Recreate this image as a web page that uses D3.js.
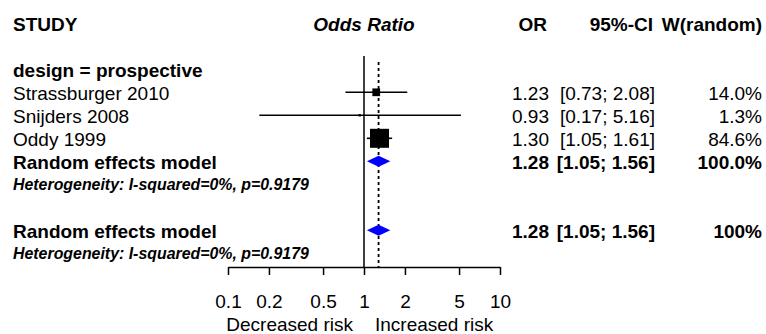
<!DOCTYPE html>
<html><head><meta charset="utf-8">
<script src="https://cdn.jsdelivr.net/npm/d3@7"></script>
<style>
html,body{margin:0;padding:0;background:#fff;}
svg text{font-family:"Liberation Sans",Arial,Helvetica,sans-serif;fill:#000;}
</style></head>
<body>
<svg id="chart" width="766" height="334"></svg>
<script>
// ---- data ----
const studies = ["Strassburger 2010", "Snijders 2008", "Oddy 1999"];
const orValues = [1.23, 0.93, 1.30];
const ciLower = [0.73, 0.17, 1.05];
const ciUpper = [2.08, 5.16, 1.61];
const weights = [14.0, 1.3, 84.6];
const pooledOR = 1.28;
const pooledLower = 1.05;
const pooledUpper = 1.56;
const subgroupLabel = "design = prospective";
const modelLabel = "Random effects model";
const hetLabel = "Heterogeneity: I-squared=0%, p=0.9179";
const tickValues = [0.1, 0.2, 0.5, 1, 2, 5, 10];
const tickLabels = ["0.1", "0.2", "0.5", "1", "2", "5", "10"];
const headers = ["STUDY", "Odds Ratio", "OR", "95%-CI", "W(random)"];
const sideLabels = ["Decreased risk", "Increased risk"];

// ---- scales ----
const svg = d3.select("#chart");
const x = d3.scaleLog().domain([0.1, 10]).range([228, 500]);
const row = d3.scaleLinear().domain([0, 10]).range([23.3, 253.3]);
const boxSize = d3.scaleSqrt().domain([0, 84.6]).range([0, 19]);
const fs = 19, fsHet = 15.9;
const bOff = 7.5, hOff = 5.5;
const colOR = 549, colCI = 655, colW = 762, leftX = 13;
const axisY = 267;

// headers
svg.append("text").attr("x", leftX).attr("y", row(0) + bOff).attr("font-size", fs).attr("font-weight", "bold").text(headers[0]);
svg.append("text").attr("x", x(1)).attr("y", row(0) + bOff).attr("font-size", fs).attr("font-weight", "bold").attr("font-style", "italic").attr("text-anchor", "middle").text(headers[1]);
[[headers[2], 547], [headers[3], 653], [headers[4], colW]].forEach(([t, cx]) => {
  svg.append("text").attr("x", cx).attr("y", row(0) + bOff).attr("font-size", fs).attr("font-weight", "bold").attr("text-anchor", "end").text(t);
});

// reference lines
svg.append("line").attr("x1", x(1)).attr("x2", x(1)).attr("y1", 56).attr("y2", axisY)
  .attr("stroke", "#000").attr("stroke-width", 1.5);
svg.append("line").attr("x1", x(pooledOR)).attr("x2", x(pooledOR)).attr("y1", 62).attr("y2", axisY)
  .attr("stroke", "#000").attr("stroke-width", 1.8).attr("stroke-dasharray", "3,3");

// subgroup label
svg.append("text").attr("x", leftX).attr("y", row(2) + bOff).attr("font-size", fs).attr("font-weight", "bold").text(subgroupLabel);

// studies
studies.forEach((s, i) => {
  const r = row(3 + i);
  svg.append("text").attr("x", leftX).attr("y", r + bOff).attr("font-size", fs).text(s);
  svg.append("line").attr("x1", x(ciLower[i])).attr("x2", x(ciUpper[i])).attr("y1", r).attr("y2", r)
    .attr("stroke", "#000").attr("stroke-width", 1.6);
  const b = boxSize(weights[i]);
  svg.append("rect").attr("x", x(orValues[i]) - b / 2).attr("y", r - b / 2).attr("width", b).attr("height", b).attr("fill", "#000");
  svg.append("text").attr("x", colOR).attr("y", r + bOff).attr("font-size", fs).attr("text-anchor", "end").text(orValues[i].toFixed(2));
  svg.append("text").attr("x", colCI).attr("y", r + bOff).attr("font-size", fs).attr("text-anchor", "end")
    .text("[" + ciLower[i].toFixed(2) + "; " + ciUpper[i].toFixed(2) + "]");
  svg.append("text").attr("x", colW).attr("y", r + bOff).attr("font-size", fs).attr("text-anchor", "end").text(weights[i].toFixed(1) + "%");
});

// pooled rows
function pooledRow(ri, wlabel) {
  const r = row(ri);
  svg.append("text").attr("x", leftX).attr("y", r + bOff).attr("font-size", fs).attr("font-weight", "bold").text(modelLabel);
  const h = 5.5;
  const pts = [[x(pooledLower), r], [x(pooledOR), r - h], [x(pooledUpper), r], [x(pooledOR), r + h]];
  svg.append("polygon").attr("points", pts.map(p => p.join(",")).join(" ")).attr("fill", "#0000ff");
  svg.append("text").attr("x", colOR).attr("y", r + bOff).attr("font-size", fs).attr("font-weight", "bold").attr("text-anchor", "end").text(pooledOR.toFixed(2));
  svg.append("text").attr("x", colCI).attr("y", r + bOff).attr("font-size", fs).attr("font-weight", "bold").attr("text-anchor", "end")
    .text("[" + pooledLower.toFixed(2) + "; " + pooledUpper.toFixed(2) + "]");
  svg.append("text").attr("x", colW).attr("y", r + bOff).attr("font-size", fs).attr("font-weight", "bold").attr("text-anchor", "end").text(wlabel);
  svg.append("text").attr("x", leftX).attr("y", row(ri + 1) + hOff).attr("font-size", fsHet).attr("font-weight", "bold").attr("font-style", "italic").text(hetLabel);
}
pooledRow(6, "100.0%");
pooledRow(9, "100%");

// axis
const axis = d3.axisBottom(x).tickValues(tickValues).tickFormat((d, i) => tickLabels[i]).tickSize(8).tickSizeOuter(0);
const g = svg.append("g").attr("transform", `translate(0,${axisY})`).call(axis);
g.select(".domain").attr("stroke", "#000").attr("stroke-width", 1.5);
g.selectAll(".tick line").attr("stroke", "#000").attr("stroke-width", 1.5);
g.selectAll(".tick text").attr("y", 41).attr("dy", 0).attr("font-size", fs).attr("font-family", null).attr("fill", "#000");

svg.append("text").attr("x", x(1) - 11).attr("y", 331).attr("font-size", fs).attr("text-anchor", "end").text(sideLabels[0]);
svg.append("text").attr("x", x(1) + 11).attr("y", 331).attr("font-size", fs).attr("text-anchor", "start").text(sideLabels[1]);
</script>
</body></html>
